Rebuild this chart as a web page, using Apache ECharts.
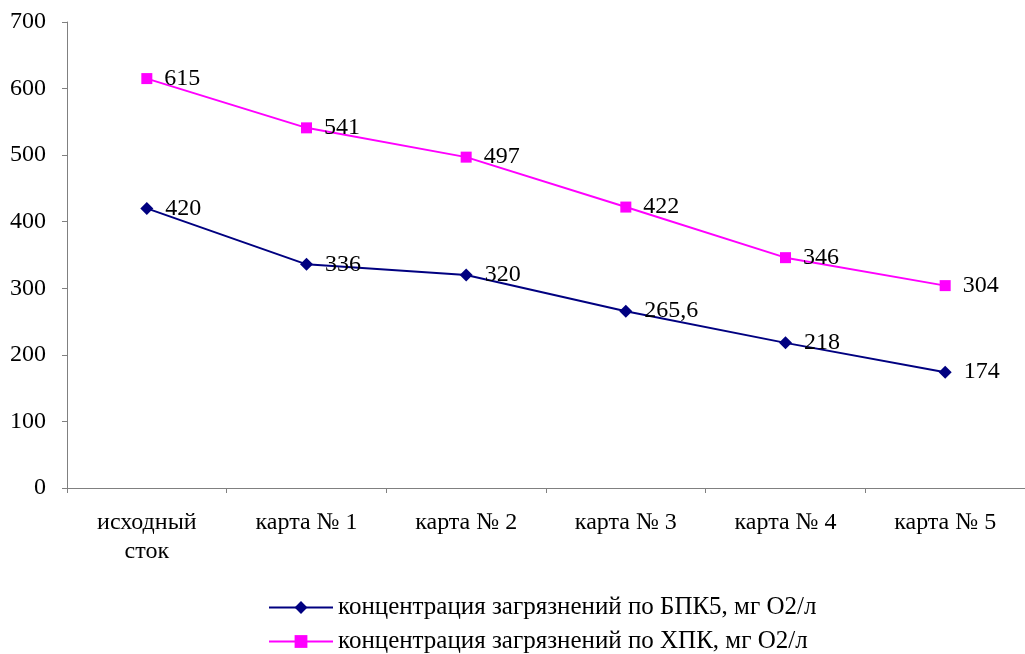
<!DOCTYPE html>
<html><head><meta charset="utf-8">
<script src="https://cdn.jsdelivr.net/npm/echarts@6/dist/echarts.min.js"></script>
<style>html,body{margin:0;padding:0;background:#fff}#c{width:1025px;height:654px}</style>
</head><body><div id="c"></div>
<script>
const categories = ['исходный\nсток', 'карта № 1', 'карта № 2', 'карта № 3', 'карта № 4', 'карта № 5'];
const bpk5 = [420, 336, 320, 265.6, 218, 174];
const bpk5Labels = ['420', '336', '320', '265,6', '218', '174'];
const xpk = [615, 541, 497, 422, 346, 304];
const yTicks = [0, 100, 200, 300, 400, 500, 600, 700];
const seriesNames = ['концентрация загрязнений по БПК5, мг О2/л', 'концентрация загрязнений по ХПК, мг О2/л'];

const font = '"Liberation Serif", "Times New Roman", serif';
const legendBase = {
  orient: 'horizontal', left: 268, padding: 0,
  itemWidth: 64, itemHeight: 16,
  textStyle: { color: '#000', fontFamily: font, fontSize: 25, lineHeight: 25 }
};
const chart = echarts.init(document.getElementById('c'));
chart.setOption({
  animation: false,
  textStyle: { fontFamily: font },
  grid: { left: 67, right: 0, top: 22, bottom: 166 },
  xAxis: {
    type: 'category', data: categories, boundaryGap: true,
    axisLine: { lineStyle: { color: '#808080', width: 1 } },
    axisTick: { show: true, length: 5, lineStyle: { color: '#808080' } },
    axisLabel: { color: '#000', fontFamily: font, fontSize: 24, margin: 20, lineHeight: 29 }
  },
  yAxis: {
    type: 'value', min: yTicks[0], max: yTicks[yTicks.length - 1], interval: 100,
    axisLine: { show: true, lineStyle: { color: '#808080', width: 1 } },
    axisTick: { show: true, length: 5, lineStyle: { color: '#808080' } },
    splitLine: { show: false },
    axisLabel: { color: '#000', fontFamily: font, fontSize: 24, margin: 21 }
  },
  legend: [
    Object.assign({}, legendBase, { top: 595, data: [seriesNames[0]] }),
    Object.assign({}, legendBase, { top: 629, data: [seriesNames[1]] })
  ],
  series: [
    {
      name: seriesNames[0], type: 'line', data: bpk5,
      symbol: 'diamond', symbolSize: 13,
      lineStyle: { color: '#000080', width: 2 },
      itemStyle: { color: '#000080' },
      label: { show: true, position: 'right', distance: 12, color: '#000', fontFamily: font, fontSize: 24,
        formatter: p => bpk5Labels[p.dataIndex] }
    },
    {
      name: seriesNames[1], type: 'line', data: xpk,
      symbol: 'rect', symbolSize: 11,
      lineStyle: { color: '#FF00FF', width: 2 },
      itemStyle: { color: '#FF00FF' },
      label: { show: true, position: 'right', distance: 12, color: '#000', fontFamily: font, fontSize: 24 }
    }
  ]
});
</script></body></html>
